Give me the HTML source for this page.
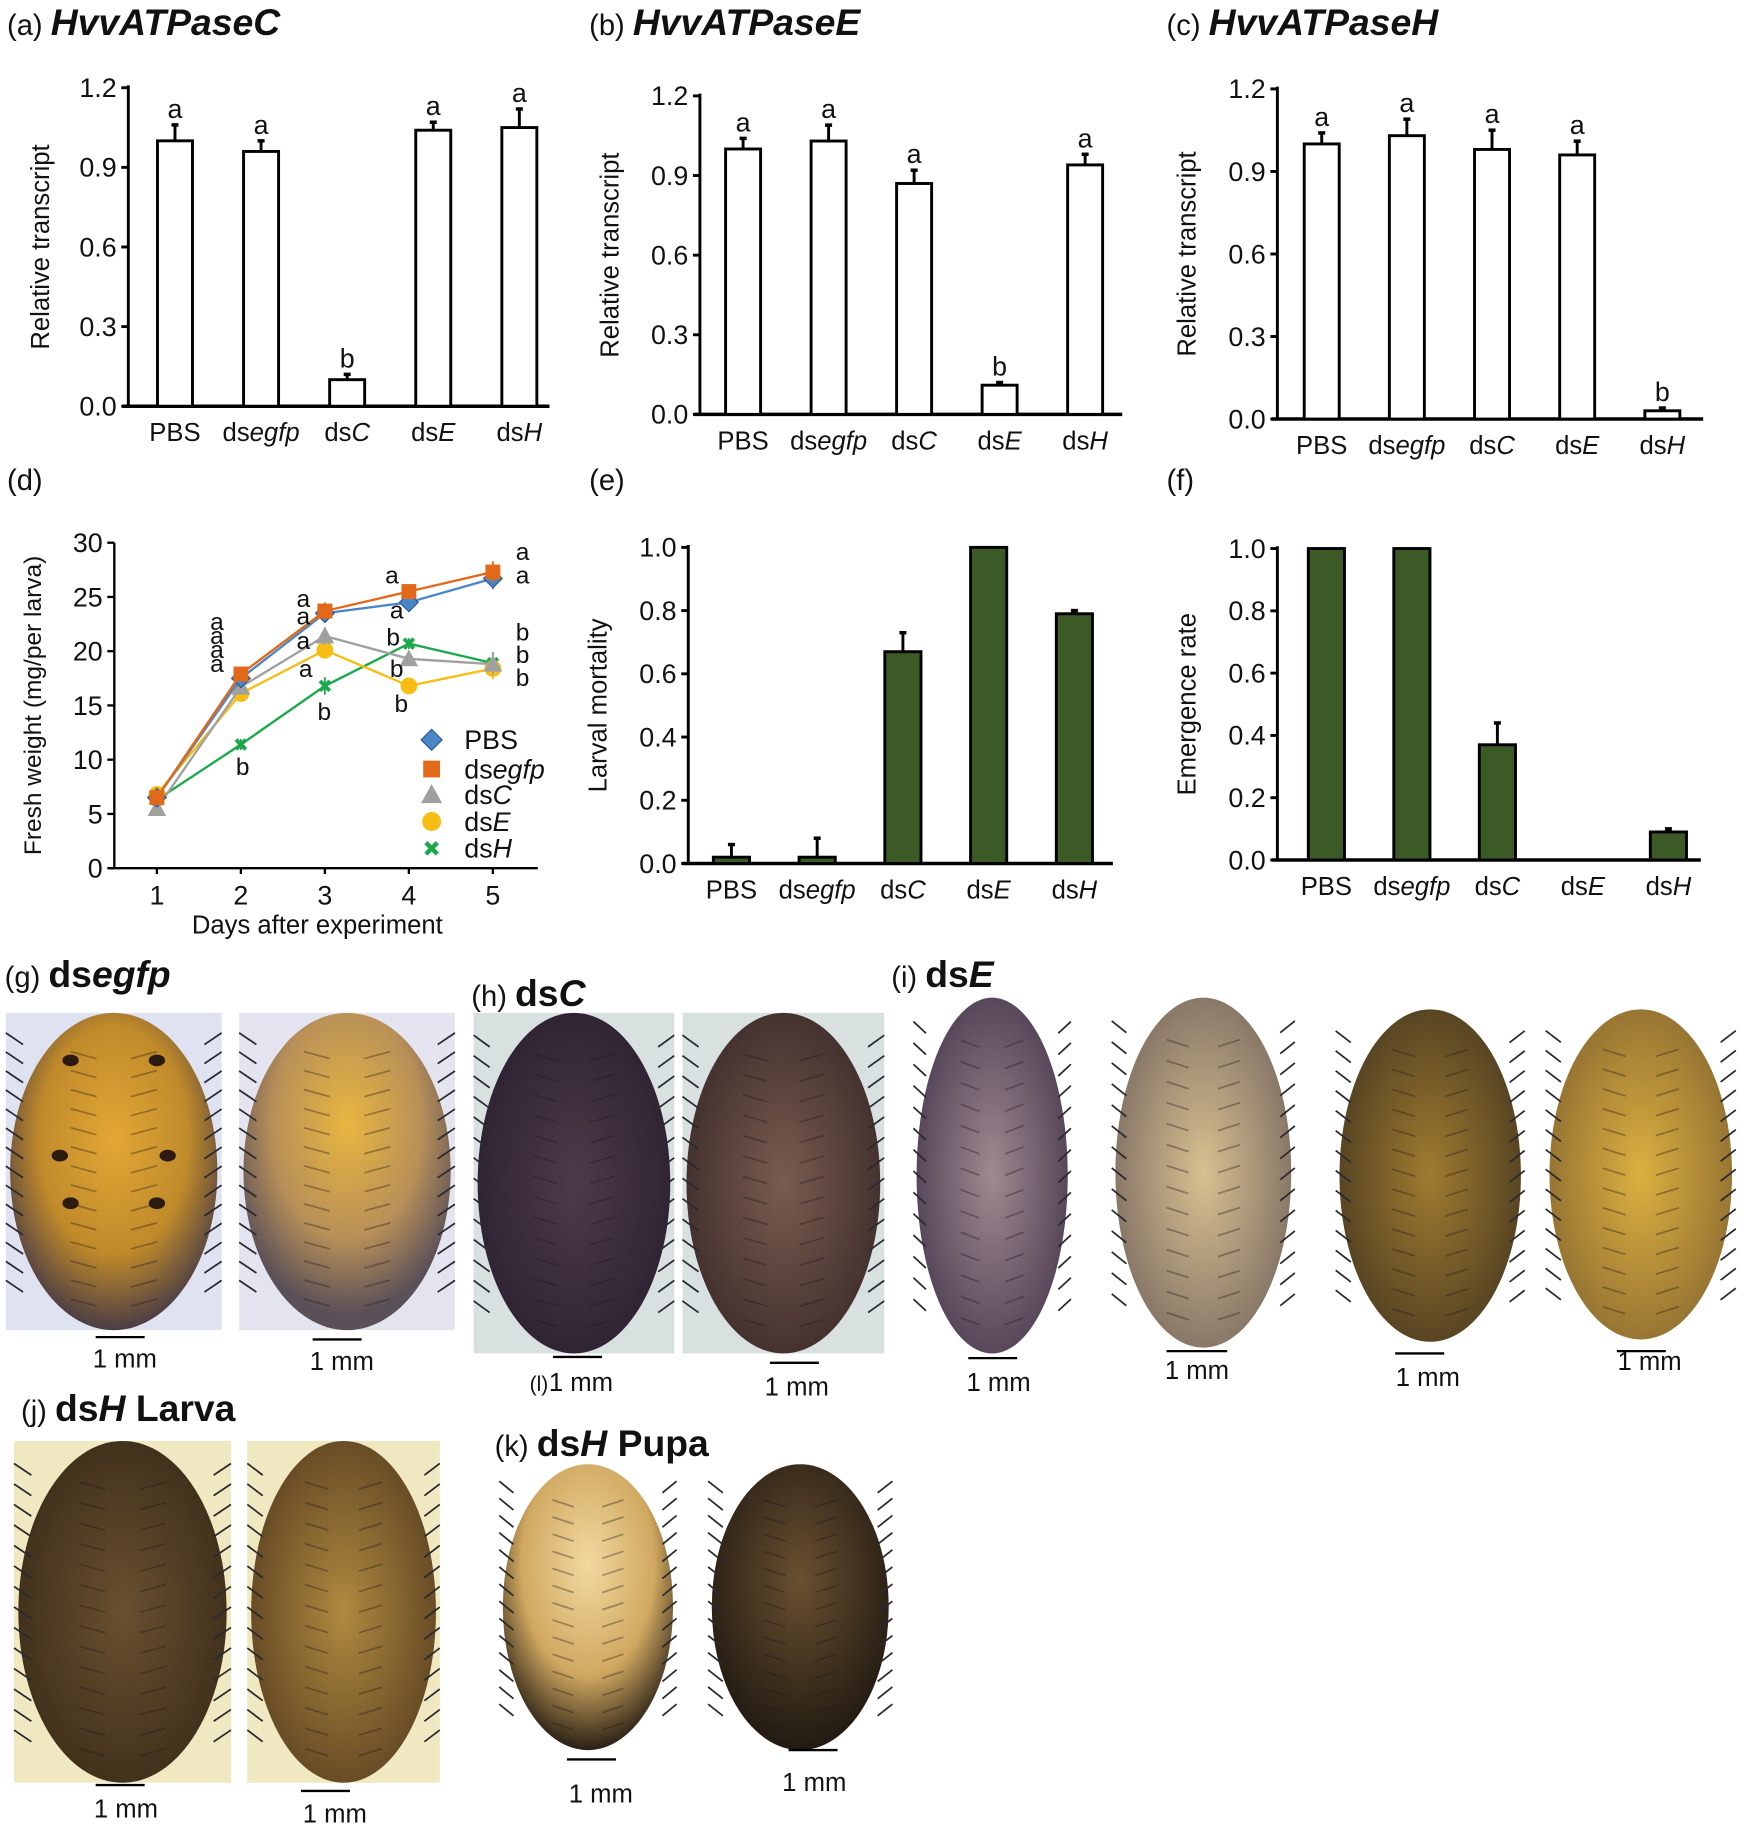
<!DOCTYPE html>
<html><head><meta charset="utf-8"><style>
html,body{margin:0;padding:0;background:#fff;}
svg{display:block;font-family:"Liberation Sans",Arial,sans-serif;}
</style></head><body>
<svg id="fig" width="1744" height="1832" viewBox="0 0 1495 1570" xmlns="http://www.w3.org/2000/svg">
<defs>
<radialGradient id="gOr" cx="50%" cy="40%" r="60%"><stop offset="0" stop-color="#e3a735"/><stop offset="0.6" stop-color="#c08a2a"/><stop offset="1" stop-color="#4a3d45"/></radialGradient>
<radialGradient id="gOr2" cx="50%" cy="35%" r="60%"><stop offset="0" stop-color="#e8b640"/><stop offset="0.6" stop-color="#b89058"/><stop offset="1" stop-color="#5a5058"/></radialGradient>
<radialGradient id="gDk" cx="50%" cy="50%" r="60%"><stop offset="0" stop-color="#4e3a48"/><stop offset="1" stop-color="#2a2030"/></radialGradient>
<radialGradient id="gBr" cx="50%" cy="50%" r="60%"><stop offset="0" stop-color="#7a5c50"/><stop offset="1" stop-color="#3a2a28"/></radialGradient>
<radialGradient id="gPu" cx="50%" cy="50%" r="60%"><stop offset="0" stop-color="#a08a90"/><stop offset="1" stop-color="#4a3a50"/></radialGradient>
<radialGradient id="gBe" cx="50%" cy="50%" r="60%"><stop offset="0" stop-color="#d8c090"/><stop offset="1" stop-color="#7a6a60"/></radialGradient>
<radialGradient id="gOl" cx="50%" cy="50%" r="60%"><stop offset="0" stop-color="#a07c30"/><stop offset="1" stop-color="#4a3a20"/></radialGradient>
<radialGradient id="gYe" cx="50%" cy="50%" r="60%"><stop offset="0" stop-color="#dcb040"/><stop offset="1" stop-color="#8a6a30"/></radialGradient>
<radialGradient id="gJ1" cx="50%" cy="50%" r="60%"><stop offset="0" stop-color="#6a5030"/><stop offset="1" stop-color="#3a2c18"/></radialGradient>
<radialGradient id="gJ2" cx="50%" cy="50%" r="60%"><stop offset="0" stop-color="#b08a40"/><stop offset="1" stop-color="#5a4020"/></radialGradient>
<radialGradient id="gK1" cx="50%" cy="35%" r="65%"><stop offset="0" stop-color="#f2d9a0"/><stop offset="0.6" stop-color="#d0a860"/><stop offset="1" stop-color="#2a2015"/></radialGradient>
<radialGradient id="gK2" cx="50%" cy="40%" r="60%"><stop offset="0" stop-color="#6a5030"/><stop offset="1" stop-color="#221a12"/></radialGradient>
</defs>
<g id="charts"></g>
<g id="photos"></g>
</svg>
<script>
// ---- data ----
const groups = ["PBS","dsegfp","dsC","dsE","dsH"];
const aValues = [1.00,0.96,0.10,1.04,1.05];
const aErrors = [0.06,0.04,0.02,0.03,0.07];
const aLetters = ["a","a","b","a","a"];
const bValues = [1.00,1.03,0.87,0.11,0.94];
const bErrors = [0.04,0.06,0.05,0.01,0.04];
const bLetters = ["a","a","a","b","a"];
const cValues = [1.00,1.03,0.98,0.96,0.03];
const cErrors = [0.04,0.06,0.07,0.05,0.01];
const cLetters = ["a","a","a","a","b"];
const transcriptTicks = [0,0.3,0.6,0.9,1.2];
const eValues = [0.02,0.02,0.67,1.00,0.79];
const eErrors = [0.04,0.06,0.06,0,0.01];
const fValues = [1.00,1.00,0.37,0,0.09];
const fErrors = [0,0,0.07,0,0.01];
const rateTicks = [0,0.2,0.4,0.6,0.8,1.0];
const days = [1,2,3,4,5];
const weightTicks = [0,5,10,15,20,25,30];
const wPBS = [6.5,17.5,23.5,24.5,26.7];
const wEgfp = [6.5,17.9,23.7,25.5,27.3];
const wC = [5.5,16.7,21.4,19.3,18.8];
const wE = [6.8,16.1,20.1,16.8,18.4];
const wH = [6.3,11.4,16.8,20.7,18.9];
const wErr = [0.4,0.5,0.8,0.5,1.0];

const NS="http://www.w3.org/2000/svg";
const root=document.getElementById('charts');
function mk(tag,attrs,parent){const e=document.createElementNS(NS,tag);for(const k in attrs)e.setAttribute(k,attrs[k]);(parent||root).appendChild(e);return e;}
function txt(x,y,s,size,parent,anchor,extra){const t=mk('text',Object.assign({x:x,y:y,'font-size':size,'text-anchor':anchor||'middle',fill:'#111'},extra||{}),parent);t.textContent=s;return t;}
function groupLabel(t,g){
  if(g==="PBS"){t.textContent="PBS";return;}
  const a=document.createElementNS(NS,'tspan');a.textContent="ds";t.appendChild(a);
  const b=document.createElementNS(NS,'tspan');b.setAttribute('font-style','italic');b.textContent=g.slice(2);t.appendChild(b);
}

function barChart(o){
  const g=mk('g',{});
  
  
  const ymax=o.ticks[o.ticks.length-1];
  const y=v=>o.y0-(v/ymax)*(o.y0-o.y1);
  const x=i=>o.xs+i*o.step;
  mk('line',{x1:o.ax,y1:o.y1-2,x2:o.ax,y2:o.y0,stroke:'#000','stroke-width':2.5},g);
  mk('line',{x1:o.ax-5,y1:o.y0,x2:o.axEnd,y2:o.y0,stroke:'#000','stroke-width':3},g);
  o.ticks.forEach(t=>{
    mk('line',{x1:o.ax-6,y1:y(t),x2:o.ax,y2:y(t),stroke:'#000','stroke-width':2.5},g);
    const tl=txt(o.ax-10,y(t)+8,t.toFixed(1),o.tickSize||23,g,'end');
    
    
  });
  o.values.forEach((v,i)=>{
    const b=mk('rect',{x:x(i)-o.bw/2,y:y(v),width:o.bw,height:o.y0-y(v),fill:o.fill,stroke:'#000','stroke-width':2.5},g);
    
    
    if(o.errors[i]>0){
      mk('line',{x1:x(i),y1:y(v),x2:x(i),y2:y(v+o.errors[i]),stroke:'#000','stroke-width':2.5},g);
      mk('line',{x1:x(i)-3,y1:y(v+o.errors[i]),x2:x(i)+3,y2:y(v+o.errors[i]),stroke:'#000','stroke-width':3},g);
    }
    if(o.letters){const l=txt(x(i),y(v+o.errors[i])-6,o.letters[i],23,g);
      
      }
    const gl=txt(x(i),o.y0+30,'',22,g);groupLabel(gl,groups[i]);
    
    
  });
  const yt=txt(0,0,o.ytitle,22,g,'middle',{transform:`translate(${o.ytx},${(o.y0+o.y1)/2}) rotate(-90)`});
  
  
}

function title(x,y,lab,main,it,size){const t=mk('text',{x:x,y:y,'font-size':size||25,fill:'#111'});
  
  
  const a=document.createElementNS(NS,'tspan');a.textContent=lab+' ';t.appendChild(a);
  if(main){const b=document.createElementNS(NS,'tspan');b.setAttribute('font-size',32);b.setAttribute('font-weight','bold');b.setAttribute('font-style','italic');b.textContent=main;t.appendChild(b);}
  if(it){it.forEach(p=>{const s=document.createElementNS(NS,'tspan');s.setAttribute('font-size',32);s.setAttribute('font-weight','bold');if(p.i)s.setAttribute('font-style','italic');s.textContent=p.t;t.appendChild(s);});}
}
title(6,30,'(a)','HvvATPaseC');
title(505,30,'(b)','HvvATPaseE');
title(1000,30,'(c)','HvvATPaseH');
title(6,420,'(d)');title(505,420,'(e)');title(1000,420,'(f)');

barChart({name:'chart-a',values:aValues,errors:aErrors,letters:aLetters,ticks:transcriptTicks,ax:110,axEnd:471,y0:348,y1:75,xs:150,step:73.8,bw:30,fill:'#fff',ytitle:'Relative transcript',ytx:42});
barChart({name:'chart-b',values:bValues,errors:bErrors,letters:bLetters,ticks:transcriptTicks,ax:600,axEnd:962,y0:355,y1:82,xs:637,step:73.3,bw:30,fill:'#fff',ytitle:'Relative transcript',ytx:530});
barChart({name:'chart-c',values:cValues,errors:cErrors,letters:cLetters,ticks:transcriptTicks,ax:1095,axEnd:1460,y0:359,y1:76,xs:1133,step:73,bw:30,fill:'#fff',ytitle:'Relative transcript',ytx:1025});
barChart({name:'chart-e',values:eValues,errors:eErrors,ticks:rateTicks,ax:590,axEnd:954,y0:740,y1:469,xs:627,step:73.5,bw:31,fill:'#3b5a26',ytitle:'Larval mortality',ytx:520});
barChart({name:'chart-f',values:fValues,errors:fErrors,ticks:rateTicks,ax:1095,axEnd:1458,y0:737,y1:470,xs:1137,step:73.3,bw:31,fill:'#3b5a26',ytitle:'Emergence rate',ytx:1025});

(function(){
  const g=mk('g',{});
  
  
  const ax=98,y0=744,y1=465,axEnd=461;
  const y=v=>y0-(v/30)*(y0-y1);
  const x=d=>134.5+(d-1)*72;
  mk('line',{x1:ax,y1:y1,x2:ax,y2:y0,stroke:'#000','stroke-width':2},g);
  mk('line',{x1:ax-5,y1:y0,x2:axEnd,y2:y0,stroke:'#000','stroke-width':2},g);
  weightTicks.forEach(t=>{mk('line',{x1:ax-6,y1:y(t),x2:ax,y2:y(t),stroke:'#000','stroke-width':2},g);
    const l=txt(ax-10,y(t)+8,String(t),23,g,'end');
    
    });
  days.forEach(d=>{mk('line',{x1:x(d),y1:y0,x2:x(d),y2:y0+5,stroke:'#000','stroke-width':2},g);
    const l=txt(x(d),y0+31,String(d),23,g);
    
    });
  const xt=txt(272,800,'Days after experiment',22,g);
  
  
  const yt=txt(0,0,'Fresh weight (mg/per larva)',21,g,'middle',{transform:`translate(35,${(y0+y1)/2}) rotate(-90)`});
  
  
  const series=[
    {n:'dsh',v:wH,c:'#1aa84a',m:'x'},{n:'dse',v:wE,c:'#f7bd12',m:'o'},{n:'dsc',v:wC,c:'#a0a0a0',m:'t'},
    {n:'pbs',v:wPBS,c:'#4a86c8',m:'d'},{n:'dsegfp',v:wEgfp,c:'#e2691a',m:'s'}];
  function marker(m,cx,cy,c,sz,parent){
    if(m==='d')return mk('polygon',{points:`${cx},${cy-sz} ${cx+sz},${cy} ${cx},${cy+sz} ${cx-sz},${cy}`,fill:c,stroke:'#2a5a90','stroke-width':1},parent);
    if(m==='s')return mk('rect',{x:cx-sz*0.8,y:cy-sz*0.8,width:sz*1.6,height:sz*1.6,fill:c},parent);
    if(m==='t')return mk('polygon',{points:`${cx},${cy-sz} ${cx+sz},${cy+sz*0.8} ${cx-sz},${cy+sz*0.8}`,fill:c},parent);
    if(m==='o')return mk('circle',{cx:cx,cy:cy,r:sz*0.9,fill:c},parent);
    return mk('path',{d:`M${cx-sz*0.7},${cy-sz*0.7}L${cx+sz*0.7},${cy+sz*0.7}M${cx+sz*0.7},${cy-sz*0.7}L${cx-sz*0.7},${cy+sz*0.7}`,stroke:c,'stroke-width':sz*0.55,fill:'none'},parent);
  }
  series.forEach(s=>{
    const sg=mk('g',{},g);
    
    
    mk('polyline',{points:s.v.map((v,i)=>x(days[i])+','+y(v)).join(' '),fill:'none',stroke:s.c,'stroke-width':2},sg);
    s.v.forEach((v,i)=>{
      mk('line',{x1:x(days[i]),y1:y(v-wErr[i]),x2:x(days[i]),y2:y(v+wErr[i]),stroke:s.c,'stroke-width':1.5},sg);
      const mm=marker(s.m,x(days[i]),y(v),s.c,s.m==='x'?6:8,sg);
      
      
    });
  });
  const L=[[186,540,'a'],[186,552,'a'],[186,564,'a'],[186,576,'a'],[260,520,'a'],[260,535,'a'],[260,556,'a'],[262,580,'a'],[278,617,'b'],[208,664,'b'],
    [336,500,'a'],[340,530,'a'],[337,553,'b'],[340,580,'b'],[344,610,'b'],[448,480,'a'],[448,500,'a'],[448,549,'b'],[448,568,'b'],[448,588,'b']];
  L.forEach(l=>{const t=txt(l[0],l[1],l[2],21,g);
    
    });
  const lg=mk('g',{},g);
  
  
  const leg=[['PBS','d','#4a86c8',634],['dsegfp','s','#e2691a',659],['dsC','t','#a0a0a0',681],['dsE','o','#f7bd12',704],['dsH','x','#1aa84a',727]];
  leg.forEach(e=>{const m=marker(e[1],370,e[3],e[2],e[1]==='x'?7:9,lg);
    
    
    const t=txt(398,e[3]+8,'',23,lg,'start');groupLabel(t,e[0]);
    
    });
})();

const P=document.getElementById('photos');
function photo(x,y,w,h,bg,grad,name,dots){
  const g=mk('g',{},P);
  
  
  mk('rect',{x:x,y:y,width:w,height:h,fill:bg},g);
  mk('ellipse',{cx:x+w/2,cy:y+h/2,rx:w*0.48,ry:h*0.5,fill:'url(#'+grad+')'},g);
  for(let k=0;k<14;k++){const yy=y+h*(0.1+k*0.06);mk('line',{x1:x+w*0.08,y1:yy,x2:x,y2:yy-10,stroke:'#2a2a30','stroke-width':1.5},g);mk('line',{x1:x+w*0.92,y1:yy,x2:x+w,y2:yy-10,stroke:'#2a2a30','stroke-width':1.5},g);
    mk('line',{x1:x+w*0.3,y1:yy+6,x2:x+w*0.42,y2:yy+12,stroke:'rgba(30,25,30,0.35)','stroke-width':1.5},g);
    mk('line',{x1:x+w*0.7,y1:yy+6,x2:x+w*0.58,y2:yy+12,stroke:'rgba(30,25,30,0.35)','stroke-width':1.5},g);}
  if(dots)dots.forEach(d=>mk('ellipse',{cx:x+w*d[0],cy:y+h*d[1],rx:7,ry:5,fill:'#2a1a10'},g));
}
function scale(x1,x2,y,ty,tx){mk('line',{x1:x1,y1:y,x2:x2,y2:y,stroke:'#000','stroke-width':2},P);
  const t=txt(tx,ty,'1 mm',22,P);}
title(4,846,'(g)',null,[{t:'ds'},{t:'egfp',i:true}]);
title(404,862,'(h)',null,[{t:'ds'},{t:'C',i:true}]);
title(764,846,'(i)',null,[{t:'ds'},{t:'E',i:true}]);
title(18,1218,'(j)',null,[{t:'ds'},{t:'H',i:true},{t:' Larva'}]);
title(424,1248,'(k)',null,[{t:'ds'},{t:'H',i:true},{t:' Pupa'}]);
photo(5,868,185,272,'#dfe2f0','gOr','photo-dsegfp-1',[[0.3,0.15],[0.7,0.15],[0.25,0.45],[0.75,0.45],[0.3,0.6],[0.7,0.6]]);
photo(205,868,185,272,'#e4e4f0','gOr2','photo-dsegfp-2');
photo(406,868,172,292,'#d8e0e0','gDk','photo-dsc-1');
photo(585,868,173,292,'#d8e0e0','gBr','photo-dsc-2');
photo(783,855,135,305,'#ffffff','gPu','photo-dse-1');
photo(953,855,157,300,'#ffffff','gBe','photo-dse-2');
photo(1145,865,162,285,'#ffffff','gOl','photo-dse-3');
photo(1325,865,163,283,'#ffffff','gYe','photo-dse-4');
photo(12,1235,186,293,'#f0e8c0','gJ1','photo-dsh-larva-1');
photo(212,1235,165,293,'#f0e8c0','gJ2','photo-dsh-larva-2');
photo(428,1255,152,245,'#ffffff','gK1','photo-dsh-pupa-1');
photo(607,1255,158,245,'#ffffff','gK2','photo-dsh-pupa-2');
scale(82,124,1146,1172,107);scale(268,310,1148,1174,293);
scale(474,516,1163,1192,498);scale(660,702,1168,1196,683);
scale(830,872,1164,1192,856);scale(1000,1052,1158,1182,1026);
scale(1196,1238,1160,1188,1224);scale(1386,1428,1158,1174,1414);
scale(82,124,1530,1558,108);scale(258,300,1535,1562,287);
scale(486,528,1508,1545,515);scale(676,718,1500,1535,698);
const il=txt(462,1192,'(l)',18,P);
</script>
</body></html>
